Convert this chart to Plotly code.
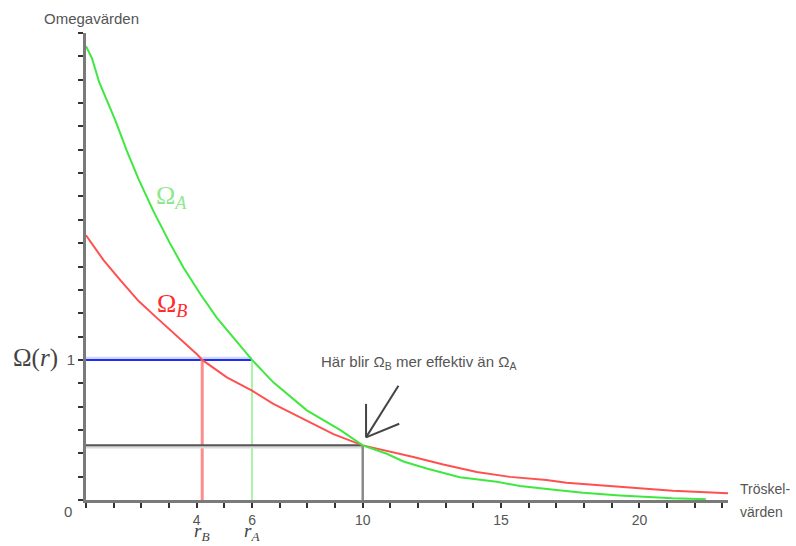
import plotly.graph_objects as go

# Threshold values (Tröskelvärden) and omega values for the two functions
r_A = [0, 0.22, 0.48, 1.06, 1.48, 1.90, 2.44, 3.04, 3.52, 4.13, 4.73, 5.33, 6.0,
       6.77, 7.98, 9.18, 10.0, 10.87, 11.47, 12.31, 13.51, 14.84, 15.68, 17.0,
       17.96, 19.29, 21.2, 22.4]
omega_A = [3.24, 3.15, 2.98, 2.71, 2.49, 2.29, 2.06, 1.83, 1.66, 1.47, 1.30, 1.16,
           1.0, 0.84, 0.64, 0.50, 0.39, 0.33, 0.275, 0.225, 0.163, 0.13, 0.10,
           0.071, 0.052, 0.033, 0.012, 0.006]

r_B = [0, 0.64, 1.24, 1.90, 2.56, 3.29, 4.01, 4.2, 5.09, 6.0, 6.77, 7.74, 8.94,
       10.0, 11.1, 11.83, 12.91, 14.12, 15.32, 16.64, 17.36, 18.81, 20.0, 21.2, 23.24]
omega_B = [1.89, 1.71, 1.57, 1.42, 1.30, 1.17, 1.04, 1.0, 0.875, 0.78, 0.686, 0.59,
           0.47, 0.39, 0.343, 0.307, 0.253, 0.20, 0.165, 0.142, 0.123, 0.102,
           0.083, 0.066, 0.047]

# Reference levels
omega_level = 1.0
r_B_at_level = 4.2
r_A_at_level = 6.0
r_cross = 10.0
omega_cross = 0.39

# Axis ticks
x_tickvals = list(range(0, 24))
x_ticklabels = {4: "4", 6: "6", 10: "10", 15: "15", 20: "20"}
x_ticktext = [x_ticklabels.get(v, "") for v in x_tickvals]
y_tickvals = [i / 6 for i in range(0, 21)]
y_ticktext = ["1" if i == 6 else "" for i in range(0, 21)]

X_MAX = 23.2
Y_MAX = 20 / 6
GLOW = 0.012  # small offset for the soft edge drawn alongside helper lines

fig = go.Figure()


def seg(xs, ys, color, width):
    fig.add_trace(go.Scatter(x=xs, y=ys, mode="lines", hoverinfo="skip",
                             line=dict(color=color, width=width)))


# Helper lines at omega = 1 and at the crossing point
seg([0, r_A_at_level], [omega_level + GLOW, omega_level + GLOW], "#cfd6ff", 3)
seg([0, r_A_at_level], [omega_level, omega_level], "#1f2ff0", 2)
seg([r_B_at_level, r_B_at_level], [0, omega_level], "#ff8c8c", 3)
seg([r_A_at_level, r_A_at_level], [0, omega_level], "#a8f5a8", 2)
seg([0, r_cross], [omega_cross - GLOW, omega_cross - GLOW], "#dadada", 3)
seg([0, r_cross], [omega_cross, omega_cross], "#555555", 2)
seg([r_cross, r_cross], [0, omega_cross], "#8a8a8a", 2.5)

# The two omega curves
fig.add_trace(go.Scatter(x=r_B, y=omega_B, mode="lines",
                         line=dict(color="#ff5050", width=2), name="Ω_B"))
fig.add_trace(go.Scatter(x=r_A, y=omega_A, mode="lines",
                         line=dict(color="#3fe83f", width=2), name="Ω_A"))

# Open arrow pointing at the crossing point
tip = (10.12, 0.447)
arrow_lines = [
    ((11.29, 0.816), tip),
    ((10.12, 0.686), tip),
    ((11.32, 0.544), tip),
]
shapes = [dict(type="line", xref="x", yref="y", x0=a[0], y0=a[1], x1=b[0], y1=b[1],
               line=dict(color="#444444", width=2)) for a, b in arrow_lines]

serif = "Liberation Serif"
sans = "Liberation Sans"
grey = "#555555"
annotations = [
    dict(text="Omegavärden", xref="paper", yref="paper", x=0.009, y=1.032,
         xanchor="center", yanchor="middle", showarrow=False,
         font=dict(family=sans, size=15, color=grey)),
    dict(text="Tröskel-", xref="paper", yref="paper", x=1.016, y=0.024,
         xanchor="left", yanchor="middle", showarrow=False,
         font=dict(family=sans, size=14, color=grey)),
    dict(text="värden", xref="paper", yref="paper", x=1.016, y=-0.026,
         xanchor="left", yanchor="middle", showarrow=False,
         font=dict(family=sans, size=14, color=grey)),
    dict(text="0", xref="paper", yref="paper", x=-0.028, y=-0.024,
         xanchor="center", yanchor="middle", showarrow=False,
         font=dict(family=sans, size=15, color=grey)),
    dict(text="Ω(<i>r</i>)", xref="paper", yref="y", x=-0.078, y=omega_level,
         xanchor="center", yanchor="middle", showarrow=False, yshift=2,
         font=dict(family=serif, size=25, color="#444444")),
    dict(text="<i>r</i><sub><i>B</i></sub>", xref="x", yref="paper", x=r_B_at_level,
         y=-0.069, xanchor="center", yanchor="middle", showarrow=False,
         font=dict(family=serif, size=19, color="#444444")),
    dict(text="<i>r</i><sub><i>A</i></sub>", xref="x", yref="paper", x=r_A_at_level,
         y=-0.069, xanchor="center", yanchor="middle", showarrow=False,
         font=dict(family=serif, size=19, color="#444444")),
    dict(text="Ω<sub><i>A</i></sub>", xref="x", yref="y", x=3.1, y=2.16,
         xanchor="center", yanchor="middle", showarrow=False,
         font=dict(family=serif, size=26, color="#8ee88e")),
    dict(text="Ω<sub><i>B</i></sub>", xref="x", yref="y", x=3.1, y=1.39,
         xanchor="center", yanchor="middle", showarrow=False,
         font=dict(family=serif, size=26, color="#ff2a2a")),
    dict(text="Här blir Ω<sub>B</sub> mer effektiv än Ω<sub>A</sub>", xref="x", yref="y",
         x=12.02, y=0.985, xanchor="center", yanchor="middle", showarrow=False,
         font=dict(family=sans, size=15, color=grey)),
]

fig.update_layout(
    width=796, height=546,
    margin=dict(l=86, r=68, t=33, b=46),
    paper_bgcolor="white", plot_bgcolor="white",
    showlegend=False,
    shapes=shapes,
    annotations=annotations,
    xaxis=dict(range=[0, X_MAX], tickvals=x_tickvals, ticktext=x_ticktext,
               ticks="outside", ticklen=5, tickwidth=2, tickcolor="#333333",
               showline=True, linecolor="#7a7a7a", linewidth=3,
               showgrid=False, zeroline=False,
               tickfont=dict(family=sans, size=14, color=grey)),
    yaxis=dict(range=[0, Y_MAX], tickvals=y_tickvals, ticktext=y_ticktext,
               ticks="outside", ticklen=5, tickwidth=2, tickcolor="#333333",
               showline=True, linecolor="#7a7a7a", linewidth=3,
               showgrid=False, zeroline=False,
               tickfont=dict(family=sans, size=15, color=grey)),
)

fig.write_html("out.html")
